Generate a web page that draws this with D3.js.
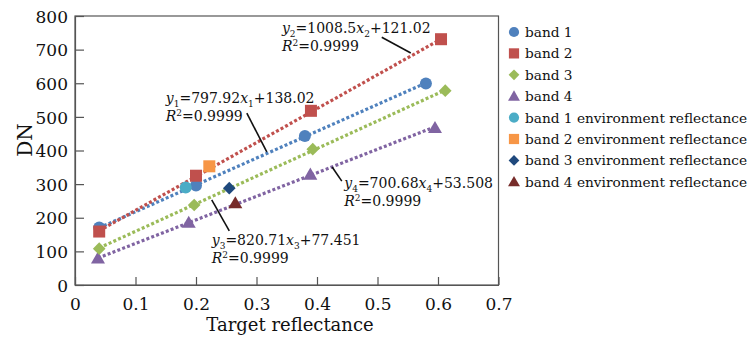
<!DOCTYPE html>
<html><head><meta charset="utf-8">
<script src="https://cdn.jsdelivr.net/npm/d3@7"></script>
<style>
html,body{margin:0;padding:0;background:#fff;}
svg{display:block;font-family:"DejaVu Serif",serif;}
</style></head>
<body><svg id="c" width="748" height="338"></svg>
<script>
// ---- data ----
const bandNames = ["band 1","band 2","band 3","band 4"];
const band1X = [0.04, 0.20, 0.38, 0.58];
const band1Y = [171, 296, 443, 599];
const band2X = [0.04, 0.20, 0.39, 0.605];
const band2Y = [159, 325, 518, 731];
const band3X = [0.04, 0.197, 0.393, 0.612];
const band3Y = [108, 238, 404, 578];
const band4X = [0.038, 0.188, 0.389, 0.595];
const band4Y = [79, 185, 328, 467];
const envNames = ["band 1 environment reflectance","band 2 environment reflectance","band 3 environment reflectance","band 4 environment reflectance"];
const envX = [0.183, 0.222, 0.255, 0.265];
const envY = [290, 353, 288, 243];
const slopes = [797.92, 1008.5, 820.71, 700.68];
const intercepts = [138.02, 121.02, 77.451, 53.508];
const r2 = ["0.9999","0.9999","0.9999","0.9999"];
const xTicks = [0,0.1,0.2,0.3,0.4,0.5,0.6,0.7];
const yTicks = [0,100,200,300,400,500,600,700,800];

// ---- style / layout ----
const bandColors = ["#4f81bd","#c0504d","#9bbb59","#8064a2"];
const envColors = ["#4bacc6","#f79646","#1f497d","#772c2a"];
const shapes = ["circle","square","diamond","triangle"];

const svg = d3.select("#c");
const x = d3.scaleLinear().domain([0,0.7]).range([75,498.5]);
const y = d3.scaleLinear().domain([0,800]).range([285,16]);

function marker(g, shape, color, cx, cy, s){
  s = s || 1;
  if(shape==="circle") g.append("circle").attr("cx",cx).attr("cy",cy).attr("r",6*s).attr("fill",color);
  else if(shape==="square") g.append("rect").attr("x",cx-6*s).attr("y",cy-6*s).attr("width",12*s).attr("height",12*s).attr("fill",color);
  else if(shape==="diamond") g.append("path").attr("d",d3.symbol(d3.symbolSquare, 80*s*s)()).attr("transform",`translate(${cx},${cy}) rotate(45)`).attr("fill",color);
  else g.append("path").attr("d",d3.symbol(d3.symbolTriangle, 85*s*s)()).attr("transform",`translate(${cx},${cy+1})`).attr("fill",color);
}

// frame
svg.append("rect").attr("x",x(0)).attr("y",y(800)).attr("width",x(0.7)-x(0)).attr("height",y(0)-y(800))
  .attr("fill","none").attr("stroke","#555").attr("stroke-width",1.2);

// axes
const gx = svg.append("g").attr("transform",`translate(0,${y(0)})`)
  .call(d3.axisBottom(x).tickValues(xTicks).tickFormat(d=>d===0?"0":d3.format(".1f")(d)).tickSizeInner(-8).tickSizeOuter(0).tickPadding(13));
const gy = svg.append("g").attr("transform",`translate(${x(0)},0)`)
  .call(d3.axisLeft(y).tickValues(yTicks).tickFormat(d3.format("d")).tickSizeInner(-9).tickSizeOuter(0).tickPadding(7));
[gx,gy].forEach(g=>{
  g.select(".domain").attr("stroke","#555").attr("stroke-width",1.2);
  g.selectAll(".tick line").attr("stroke","#555").attr("stroke-width",1.2);
  g.selectAll(".tick text").attr("font-family","DejaVu Serif").attr("font-size",17).attr("fill","#111");
});
gy.selectAll(".tick text").attr("dy","0.36em");

// axis titles
svg.append("text").attr("x",290).attr("y",331).attr("text-anchor","middle")
  .attr("font-size",18).attr("fill","#111").text("Target reflectance");
svg.append("text").attr("transform",`translate(32,140) rotate(-90)`).attr("text-anchor","middle")
  .attr("font-size",20).attr("fill","#111").text("DN");

// trend lines
const bandsX = [band1X,band2X,band3X,band4X];
const bandsY = [band1Y,band2Y,band3Y,band4Y];
const drawOrder = [3,2,0,1];
drawOrder.forEach(i=>{
  const x0 = d3.min(bandsX[i]), x1 = d3.max(bandsX[i]);
  svg.append("line").attr("x1",x(x0)).attr("y1",y(slopes[i]*x0+intercepts[i]))
    .attr("x2",x(x1)).attr("y2",y(slopes[i]*x1+intercepts[i]))
    .attr("stroke",bandColors[i]).attr("stroke-width",3.2).attr("stroke-dasharray","3 2.2");
});

// points
const pts = svg.append("g");
drawOrder.forEach(i=>{
  bandsX[i].forEach((v,k)=>marker(pts, shapes[i], bandColors[i], x(v), y(bandsY[i][k])));
});
envX.forEach((v,i)=>marker(pts, shapes[i], envColors[i], x(v), y(envY[i])));

// annotations
const ann = [
  {i:0, tx:0.150, ty:541, l:[0.284,511,0.317,396]},
  {i:1, tx:0.342, ty:749, l:[0.507,737,0.555,690]},
  {i:2, tx:0.226, ty:119, l:[0.226,253,0.255,161]},
  {i:3, tx:0.445, ty:288, l:[0.425,351,0.441,309]}
];
ann.forEach(a=>{
  const n = String(a.i+1);
  svg.append("line").attr("x1",x(a.l[0])).attr("y1",y(a.l[1])).attr("x2",x(a.l[2])).attr("y2",y(a.l[3]))
    .attr("stroke","#111").attr("stroke-width",1.6);
  const t = svg.append("text").attr("x",x(a.tx)).attr("y",y(a.ty)).attr("font-size",14).attr("fill","#111");
  t.append("tspan").attr("font-style","italic").text("y");
  t.append("tspan").attr("font-size",9).attr("dy",4).text(n);
  t.append("tspan").attr("dy",-4).text("="+slopes[a.i]);
  t.append("tspan").attr("font-style","italic").text("x");
  t.append("tspan").attr("font-size",9).attr("dy",4).text(n);
  t.append("tspan").attr("dy",-4).text("+"+intercepts[a.i]);
  const t2 = svg.append("text").attr("x",x(a.tx)).attr("y",y(a.ty)+18).attr("font-size",14).attr("fill","#111");
  t2.append("tspan").attr("font-style","italic").text("R");
  t2.append("tspan").attr("font-size",9).attr("dy",-5).text("2");
  t2.append("tspan").attr("dy",5).text("="+r2[a.i]);
});

// legend
const leg = svg.append("g");
const items = bandNames.map((n,i)=>({n, c:bandColors[i], s:shapes[i]}))
  .concat(envNames.map((n,i)=>({n, c:envColors[i], s:shapes[i]})));
items.forEach((d,k)=>{
  const cy = 32 + k*21.4;
  marker(leg, d.s, d.c, 514, cy, 0.85);
  leg.append("text").attr("x",525).attr("y",cy+5).attr("font-size",13.7).attr("fill","#111").text(d.n);
});
</script></body></html>
